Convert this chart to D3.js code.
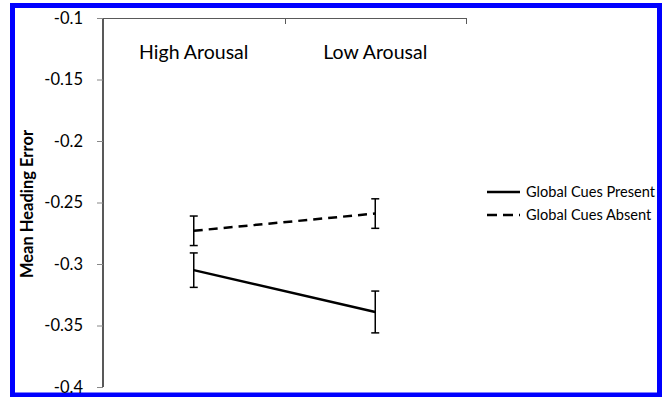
<!DOCTYPE html>
<html>
<head>
<meta charset="utf-8">
<script src="https://cdn.jsdelivr.net/npm/d3@7"></script>
<style>
html,body{margin:0;padding:0;background:#fff;}
svg{display:block;}
</style>
</head>
<body>
<svg id="chart" width="663" height="397"></svg>
<script>
const categories = ["High Arousal", "Low Arousal"];
const seriesNames = ["Global Cues Present", "Global Cues Absent"];
const presentValues = [-0.305, -0.339];
const presentErrors = [0.014, 0.017];
const absentValues = [-0.273, -0.259];
const absentErrors = [0.012, 0.012];
const yTicks = [-0.1, -0.15, -0.2, -0.25, -0.3, -0.35, -0.4];

const series = [
  {name: seriesNames[0], values: presentValues, errors: presentErrors, dash: null},
  {name: seriesNames[1], values: absentValues, errors: absentErrors, dash: "9,6"}
];

const svg = d3.select("#chart");
const font = "Lato, 'Open Sans', sans-serif";

// border
svg.append("rect").attr("x", 12.5).attr("y", 5.5).attr("width", 647).attr("height", 389.5)
  .attr("fill", "#fff").attr("stroke", "#0000ff").attr("stroke-width", 5);

const pLeft = 103, pRight = 466, pTop = 18, pBottom = 387;
const x = d3.scaleBand().domain(categories).range([pLeft, pRight]);
const y = d3.scaleLinear().domain([-0.4, -0.1]).range([pBottom, pTop]);

// top category axis line
svg.append("line").attr("x1", pLeft).attr("x2", pRight).attr("y1", pTop + 0.5).attr("y2", pTop + 0.5)
  .attr("stroke", "#595959").attr("stroke-width", 1);
const bounds = [pLeft, x(categories[1]), pRight];
svg.selectAll(".ctick").data(bounds).enter().append("line")
  .attr("x1", d => Math.round(d) + 0.5).attr("x2", d => Math.round(d) + 0.5)
  .attr("y1", pTop).attr("y2", pTop + 6)
  .attr("stroke", "#595959").attr("stroke-width", 1);

// left value axis
const yAxis = d3.axisLeft(y).tickValues(yTicks).tickSize(6).tickPadding(14)
  .tickFormat(d => String(+d.toFixed(2)));
const gy = svg.append("g").attr("transform", `translate(${pLeft},0)`).call(yAxis);
gy.select(".domain").attr("stroke", "#595959").attr("stroke-width", 2)
  .attr("d", `M0,${pTop}V${pBottom}`);
gy.selectAll(".tick line").attr("stroke", "#888").attr("stroke-width", 1);
gy.selectAll(".tick text").attr("font-family", font).attr("font-size", 16.5).attr("fill", "#000");

// y title
svg.append("text").attr("transform", `translate(33,204) rotate(-90)`)
  .attr("text-anchor", "middle").attr("font-family", font).attr("font-weight", "bold")
  .attr("font-size", 16.5).attr("fill", "#000").text("Mean Heading Error");

// category labels
svg.selectAll(".clabel").data(categories).enter().append("text")
  .attr("x", d => x(d) + x.bandwidth() / 2).attr("y", 59)
  .attr("text-anchor", "middle").attr("font-family", font).attr("font-size", 19.5)
  .attr("fill", "#000").text(d => d);

// series lines
const line = d3.line().x((d, i) => x(categories[i]) + x.bandwidth() / 2).y(d => y(d));
series.forEach(s => {
  svg.append("path").datum(s.values).attr("d", line).attr("fill", "none")
    .attr("stroke", "#000").attr("stroke-width", 2.5)
    .attr("stroke-dasharray", s.dash);
  s.values.forEach((v, i) => {
    const cx = x(categories[i]) + x.bandwidth() / 2;
    const y1 = y(v + s.errors[i]), y2 = y(v - s.errors[i]);
    const g = svg.append("g").attr("stroke", "#000").attr("stroke-width", 1.5);
    g.append("line").attr("x1", cx).attr("x2", cx).attr("y1", y1).attr("y2", y2);
    g.append("line").attr("x1", cx - 4).attr("x2", cx + 4).attr("y1", y1).attr("y2", y1);
    g.append("line").attr("x1", cx - 4).attr("x2", cx + 4).attr("y1", y2).attr("y2", y2);
  });
});

// legend
const leg = svg.append("g");
series.forEach((s, i) => {
  const ly = 192 + i * 23;
  leg.append("line").attr("x1", 487).attr("x2", 520).attr("y1", ly).attr("y2", ly)
    .attr("stroke", "#000").attr("stroke-width", 2.5).attr("stroke-dasharray", s.dash ? "10,6" : null);
  leg.append("text").attr("x", 526).attr("y", ly).attr("dy", "0.35em")
    .attr("font-family", font).attr("font-size", 14.6).attr("fill", "#000").text(s.name);
});
</script>
</body>
</html>
